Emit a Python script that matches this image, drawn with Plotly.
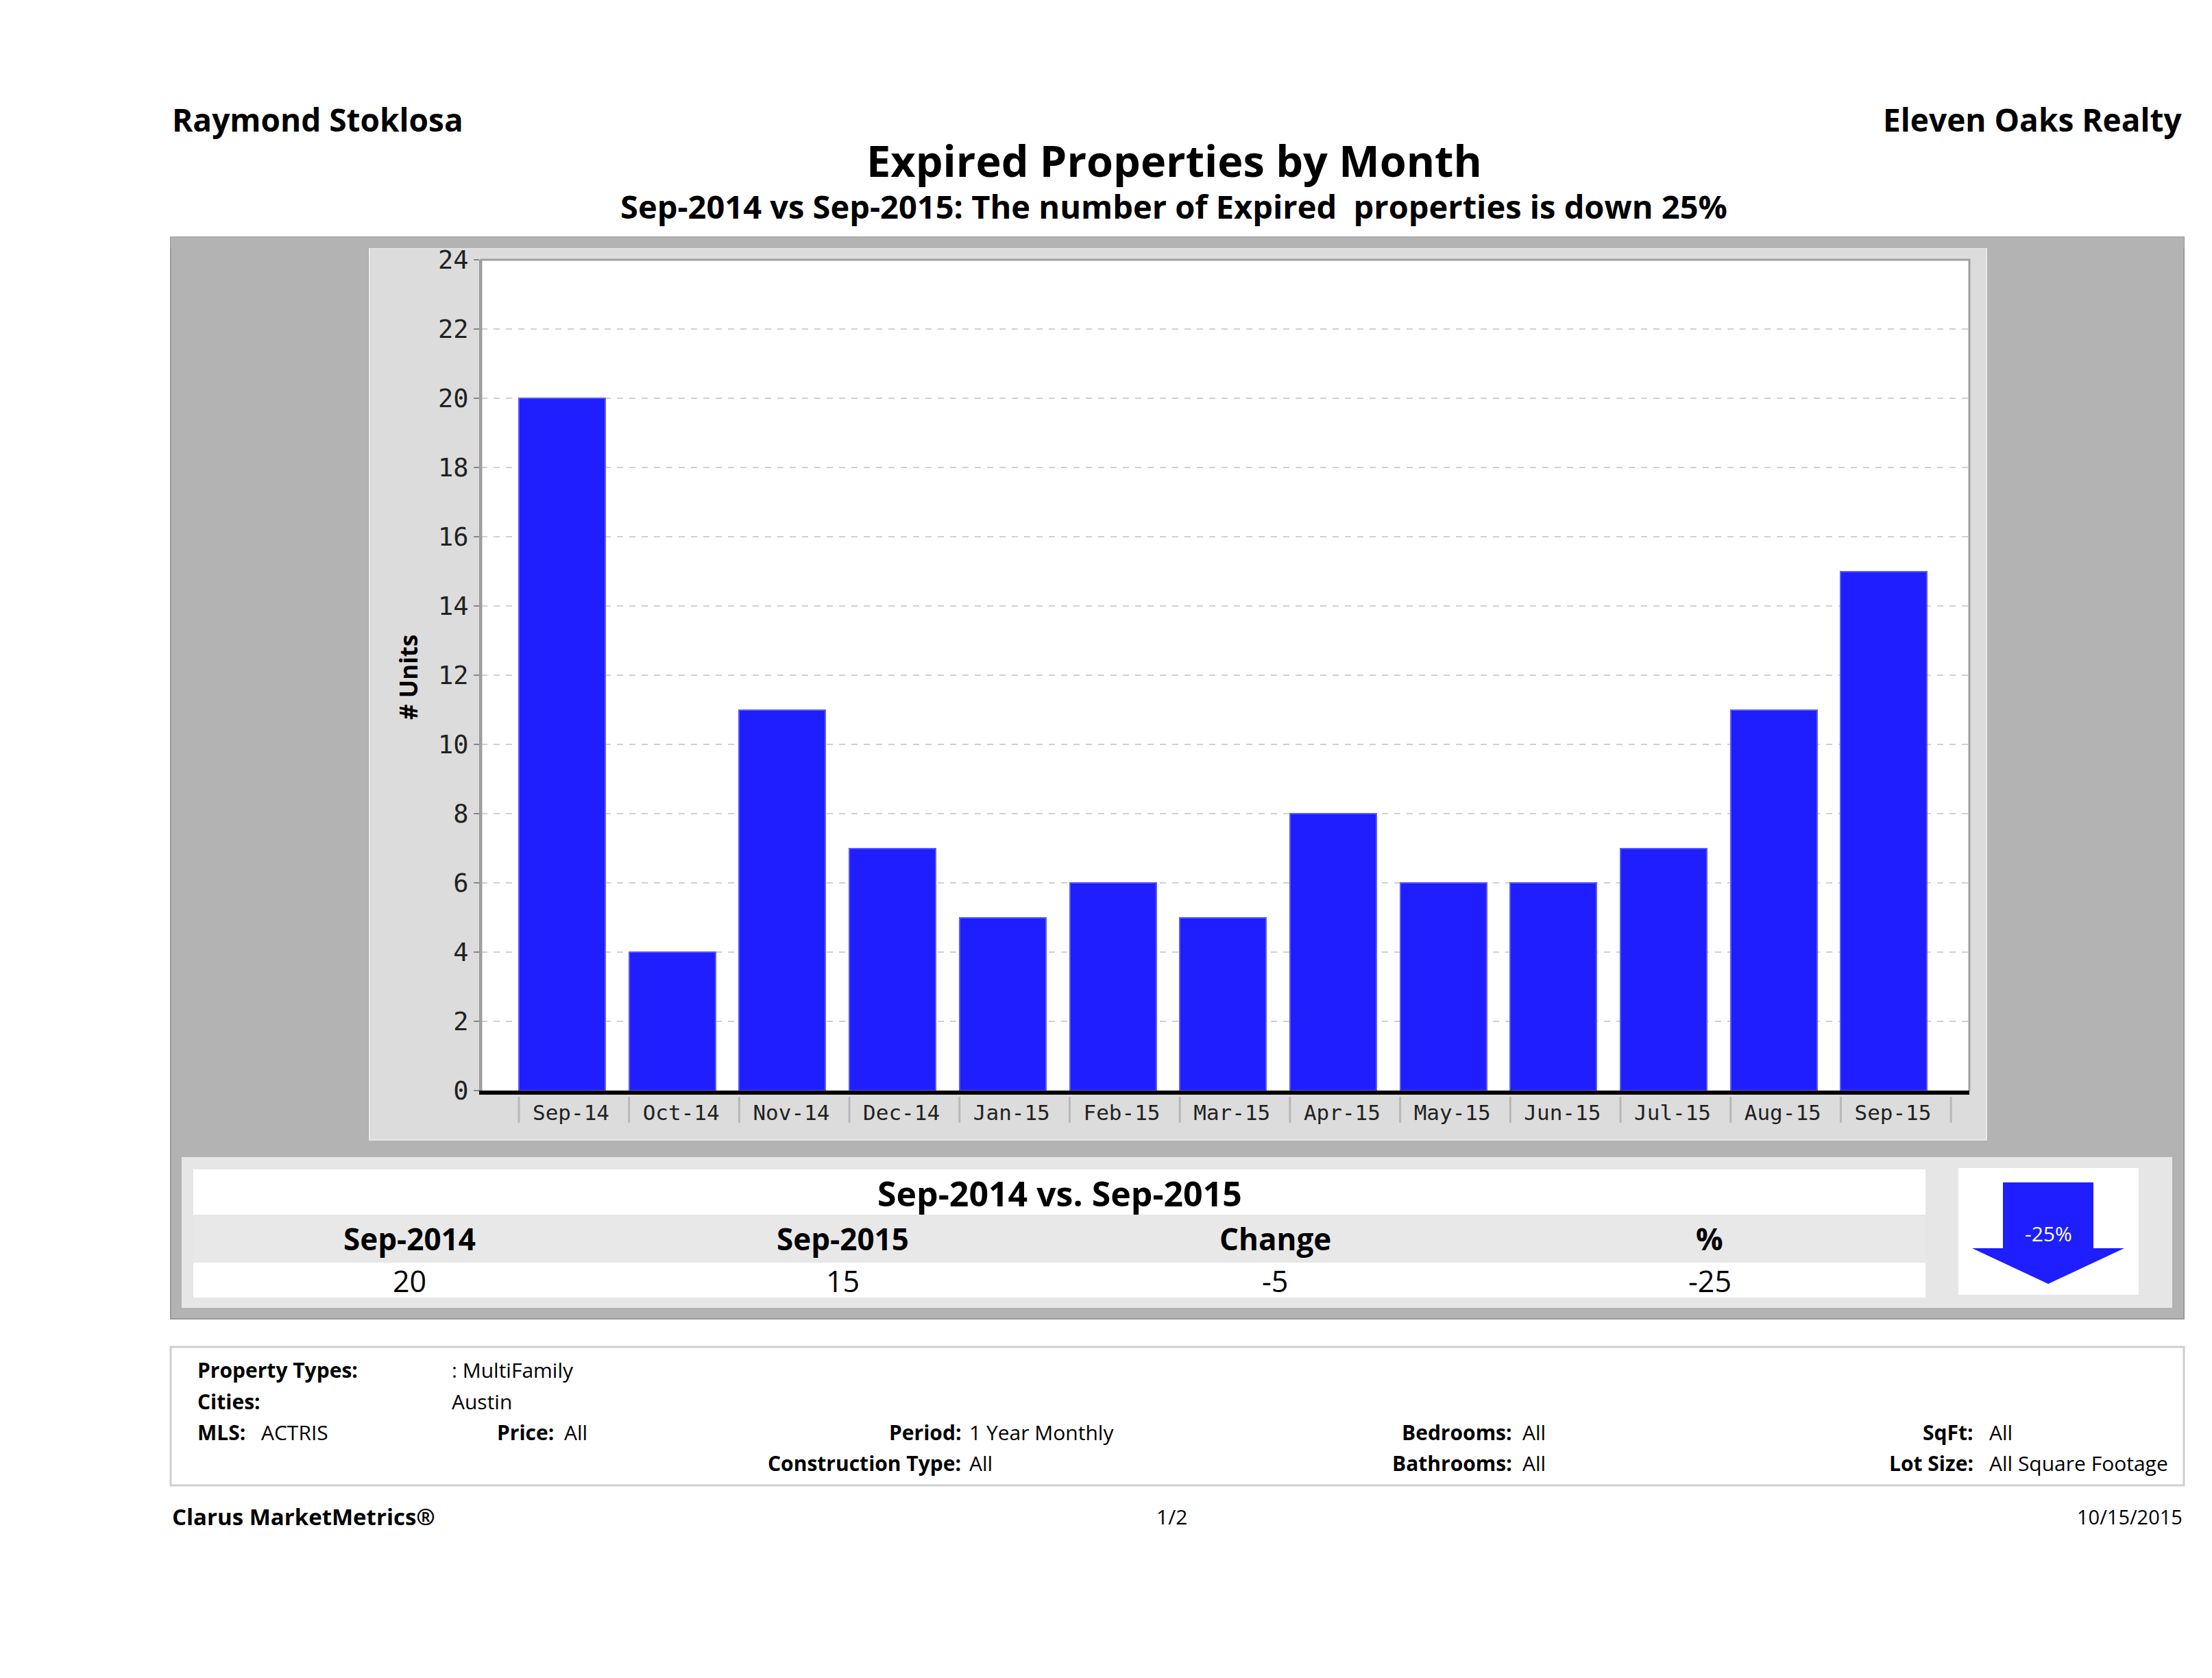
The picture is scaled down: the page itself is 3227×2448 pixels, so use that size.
import plotly.graph_objects as go

# ---------------- data ----------------
months = ["Sep-14", "Oct-14", "Nov-14", "Dec-14", "Jan-15", "Feb-15", "Mar-15",
          "Apr-15", "May-15", "Jun-15", "Jul-15", "Aug-15", "Sep-15"]
units = [20, 4, 11, 7, 5, 6, 5, 8, 6, 6, 7, 11, 15]

y_ticks = list(range(0, 25, 2))

summary_headers = ["Sep-2014", "Sep-2015", "Change", "%"]
summary_values = ["20", "15", "-5", "-25"]
pct_change = "-25%"

# ---------------- layout helpers ----------------
W, H = 3227, 2448
def X(p):
    return p / W
def Y(p):
    return 1 - p / H

BOLD = "Open Sans"
REG = "Open Sans"
MONO = "DejaVu Sans Mono"
BAR_W = 0.784

fig = go.Figure()
fig.add_trace(go.Bar(
    x=months, y=units, width=BAR_W,
    marker=dict(color="#1E1EFF", line=dict(color="#5A5AFF", width=2)),
    hoverinfo="x+y",
))

shapes = []
def rect(x0, y0, x1, y1, fill, line=None, lw=0, layer="below"):
    shapes.append(dict(type="rect", xref="paper", yref="paper",
                       x0=X(x0), x1=X(x1), y0=Y(y1), y1=Y(y0),
                       fillcolor=fill, line=dict(color=line or fill, width=lw),
                       layer=layer))

px0, px1, py0, py1 = 702, 2873, 1591, 379

# outer gray box
rect(249, 346, 3186, 1924, "#B3B3B3", "#9A9A9A", 2)
# chart panel
rect(539, 362, 2898, 1663, "#DCDCDC", "#E8E8E8", 2)
# plot area background
rect(px0, py1, px1, py0, "#FFFFFF")
# summary area
rect(265, 1688, 3169, 1908, "#E6E6E6")
rect(282, 1706, 2809, 1772, "#FFFFFF")
rect(282, 1774, 2809, 1838, "#E8E8E8")
rect(282, 1842, 2809, 1893, "#FFFFFF")
rect(2857, 1704, 3120, 1889, "#FFFFFF")
# arrow
shapes.append(dict(type="path", xref="paper", yref="paper", layer="below",
                   path=(f"M {X(2922)},{Y(1725)} L {X(3054)},{Y(1725)} L {X(3054)},{Y(1821)} "
                         f"L {X(3099)},{Y(1821)} L {X(2988)},{Y(1873)} L {X(2877)},{Y(1821)} "
                         f"L {X(2922)},{Y(1821)} Z"),
                   fillcolor="#1E1EFF", line=dict(width=0)))
# footer box
rect(249, 1965, 3186, 2167, "#FFFFFF", "#CFCFCF", 3)
# plot frame (left, top, right)
shapes.append(dict(type="path", xref="paper", yref="paper", layer="above",
                   path=f"M {X(px0)},{Y(py0)} L {X(px0)},{Y(py1)} L {X(px1)},{Y(py1)} L {X(px1)},{Y(py0)}",
                   line=dict(color="#A0A0A0", width=3)))
# strip that clips the top tick label like in the reference
rect(249, 346, 3186, 362, "#B3B3B3", layer="above")
# x tick marks at the left edge of each bar (category index based)
for i in range(len(months) + 1):
    shapes.append(dict(type="line", xref="x", yref="paper", layer="above",
                       x0=i - BAR_W / 2, x1=i - BAR_W / 2, y0=Y(1600), y1=Y(1638),
                       line=dict(color="#B8B8B8", width=3)))

annotations = []
def txt(s, x, y, size, bold=False, xanchor="left", color="#000000", family=None, angle=0):
    annotations.append(dict(
        text=f"<b>{s}</b>" if bold else s, x=X(x), y=Y(y), xref="paper", yref="paper",
        xanchor=xanchor, yanchor="middle", showarrow=False, textangle=angle,
        font=dict(size=size, color=color, family=family or (BOLD if bold else REG))))

# header
txt("Raymond Stoklosa", 249, 174, 46, True)
txt("Eleven Oaks Realty", 3186, 174, 46, True, "right")
txt("Expired Properties by Month", 1713, 233, 63, True, "center")
txt("Sep-2014 vs Sep-2015: The number of Expired  properties is down 25%", 1713, 301, 47, True, "center")
txt("# Units", 595, 988, 35, True, "center", angle=-90)

# summary
txt("Sep-2014 vs. Sep-2015", 1546, 1741, 50, True, "center")
for h, v, cx in zip(summary_headers, summary_values, [597, 1229, 1860, 2494]):
    txt(h, cx, 1807, 44, True, "center")
    txt(v, cx, 1869, 43, False, "center")
txt(pct_change, 2988, 1799, 30, False, "center", color="#FFFFFF")

# footer details
FS = 30
txt("Property Types:", 286, 1998, FS, True)
txt(": MultiFamily", 657, 1998, FS)
txt("Cities:", 286, 2044, FS, True)
txt("Austin", 657, 2044, FS)
txt("MLS:", 286, 2089, FS, True)
txt("ACTRIS", 379, 2089, FS)
txt("Price:", 810, 2089, FS, True, "right")
txt("All", 821, 2089, FS)
txt("Period:", 1404, 2089, FS, True, "right")
txt("1 Year Monthly", 1412, 2089, FS)
txt("Bedrooms:", 2208, 2089, FS, True, "right")
txt("All", 2219, 2089, FS)
txt("SqFt:", 2881, 2089, FS, True, "right")
txt("All", 2900, 2089, FS)
txt("Construction Type:", 1404, 2134, FS, True, "right")
txt("All", 1412, 2134, FS)
txt("Bathrooms:", 2208, 2134, FS, True, "right")
txt("All", 2219, 2134, FS)
txt("Lot Size:", 2881, 2134, FS, True, "right")
txt("All Square Footage", 2900, 2134, FS)

txt("Clarus MarketMetrics®", 249, 2212, 33, True)
txt("1/2", 1710, 2212, 30, False, "center")
txt("10/15/2015", 3186, 2212, 29, False, "right")

fig.update_layout(
    width=W, height=H, autosize=False,
    margin=dict(l=0, r=0, t=0, b=0, pad=0, autoexpand=False),
    paper_bgcolor="#FFFFFF", plot_bgcolor="#FFFFFF",
    showlegend=False, bargap=0,
    shapes=shapes, annotations=annotations,
    xaxis=dict(
        domain=[X(px0), X(px1)], type="category", automargin=False,
        range=[-0.734, 12.775],
        showline=True, linecolor="#000000", linewidth=6,
        ticks="outside", ticklen=0, tickwidth=1, tickcolor="rgba(0,0,0,0)",
        ticklabelshift=13,
        tickfont=dict(family=MONO, size=31, color="#222222"),
        showgrid=False, zeroline=False,
    ),
    yaxis=dict(
        domain=[Y(py0), Y(py1)], range=[0, 24], automargin=False,
        tickvals=y_ticks,
        showline=True, linecolor="#9A9A9A", linewidth=3,
        ticks="outside", ticklen=8, tickwidth=2, tickcolor="#888888",
        tickfont=dict(family=MONO, size=37, color="#222222"),
        showgrid=True, gridcolor="#D0D0D0", gridwidth=2, griddash="dash",
        zeroline=False,
    ),
)

fig.write_html("out.html", config={"displayModeBar": False},
               post_script="document.body.style.margin='0';document.body.style.overflow='hidden';")
